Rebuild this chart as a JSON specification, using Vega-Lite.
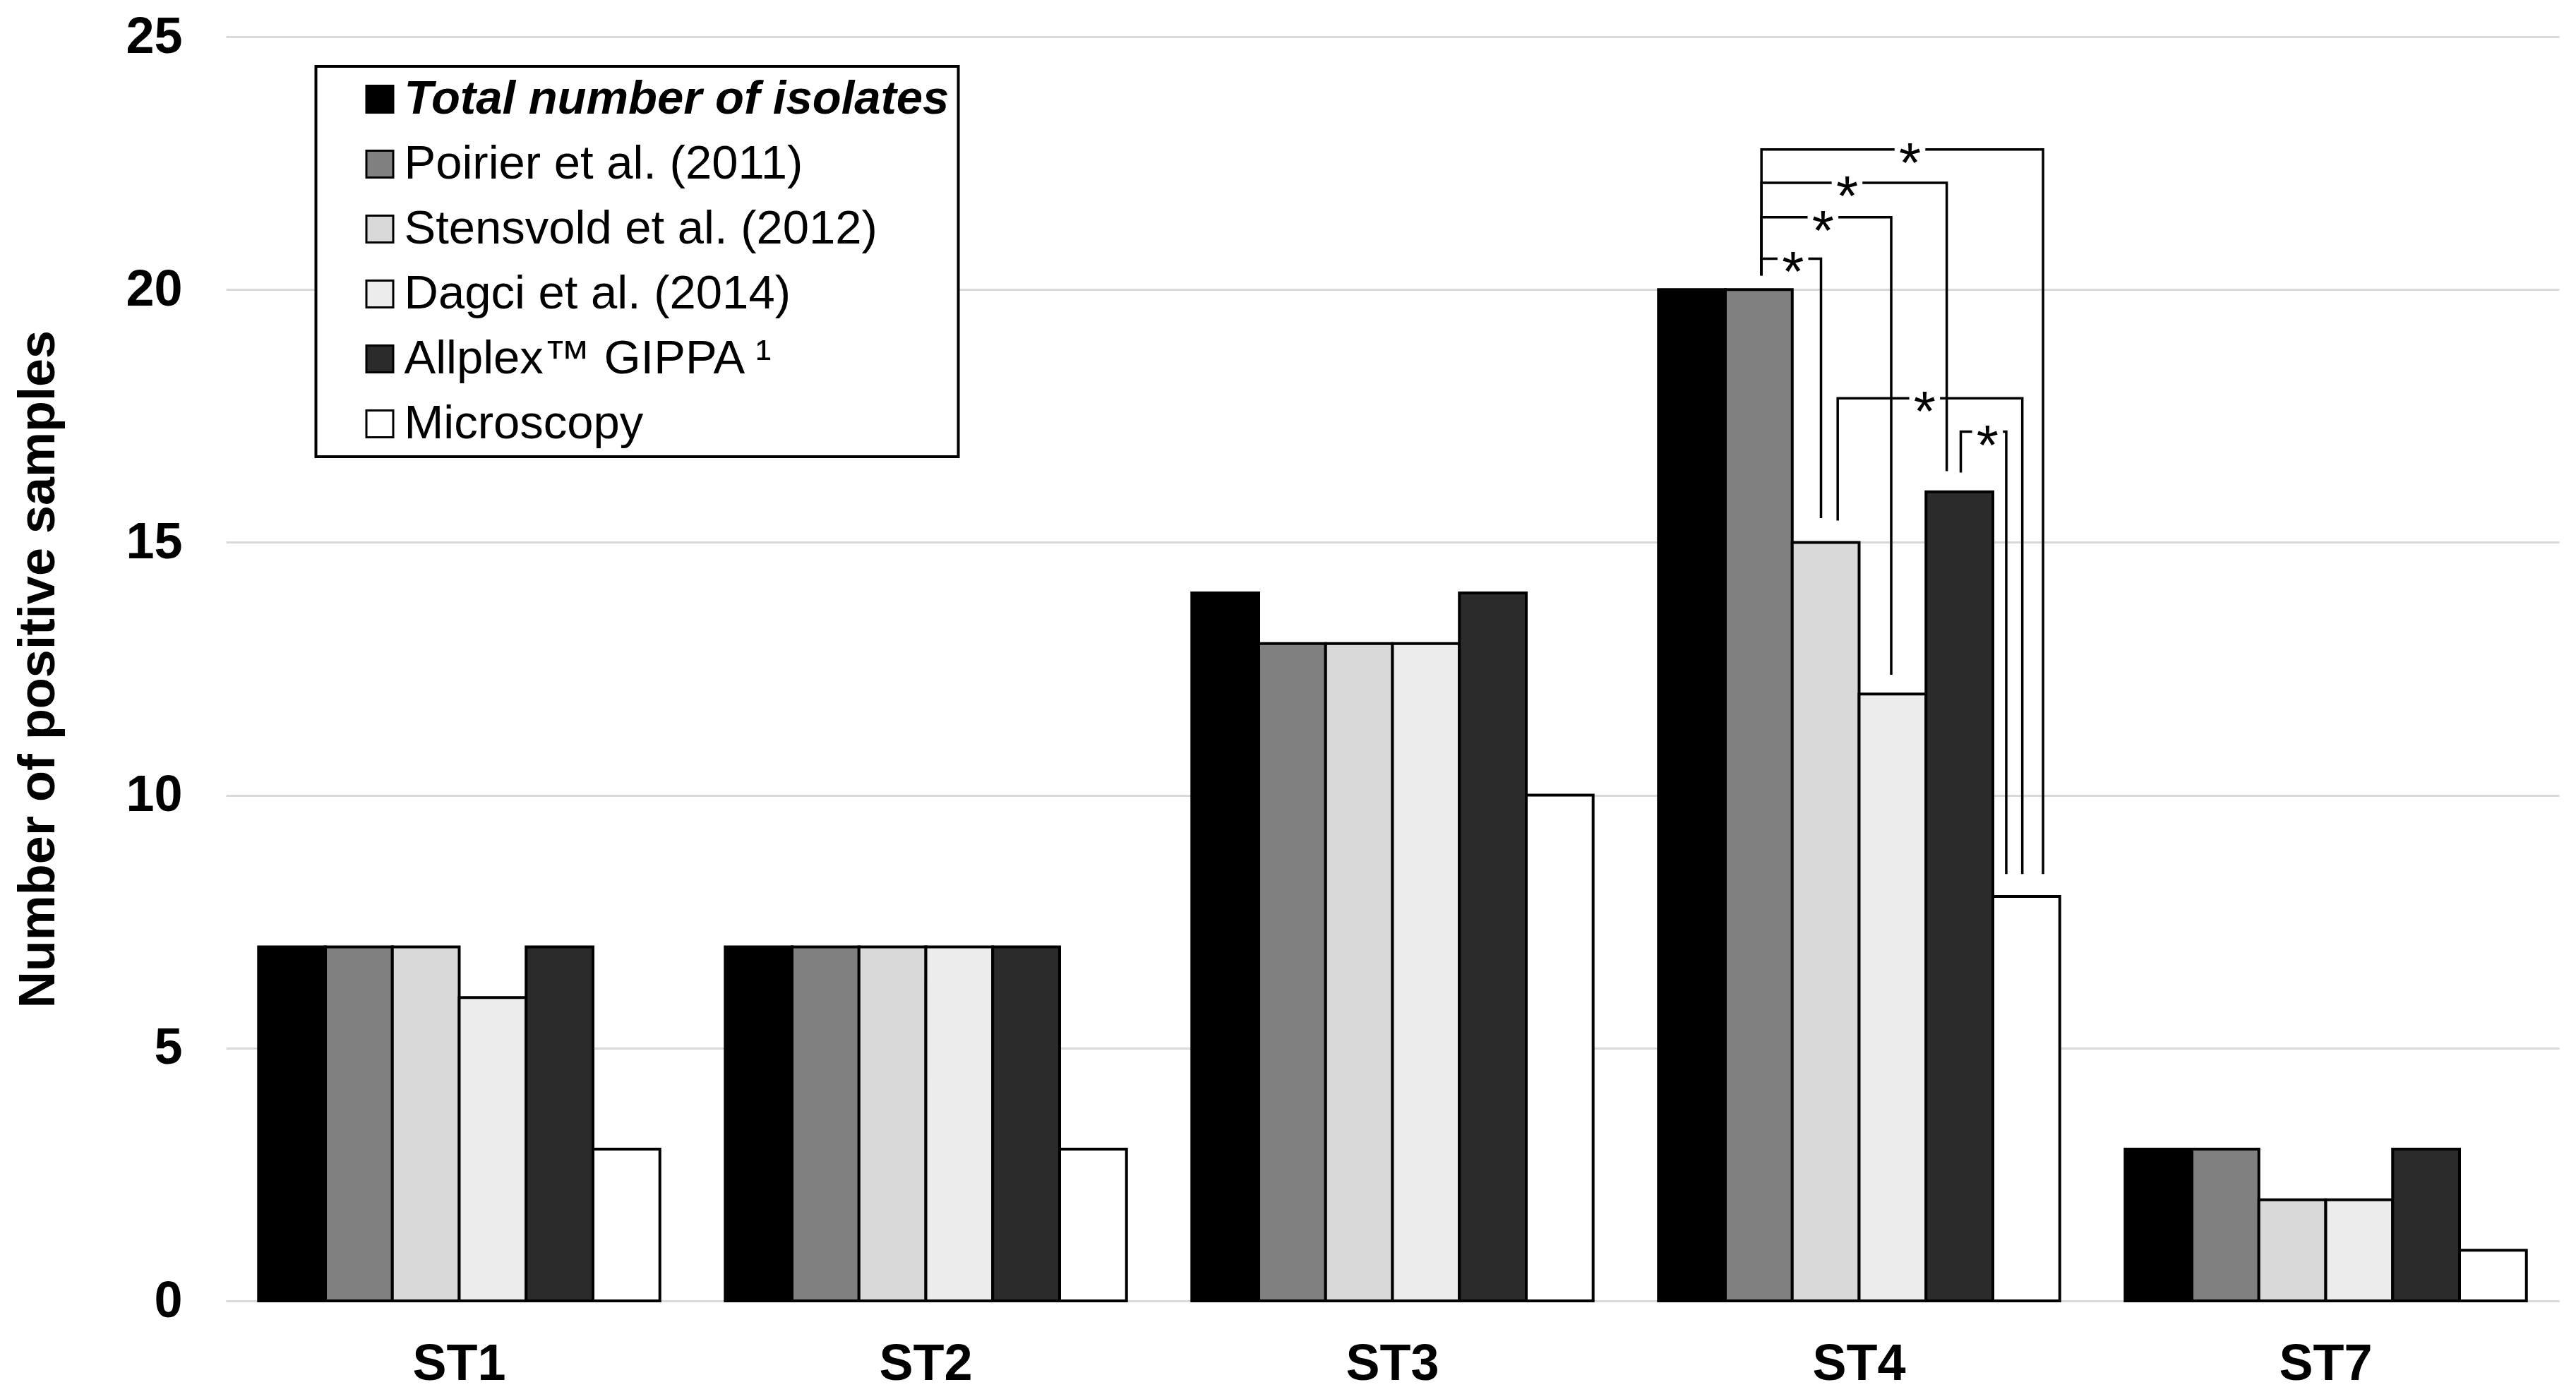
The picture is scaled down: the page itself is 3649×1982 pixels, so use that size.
{
  "$schema": "https://vega.github.io/schema/vega-lite/v6.json",
  "width": 3305,
  "height": 1791,
  "autosize": {"type": "none"},
  "padding": {"left": 320, "top": 52, "right": 24, "bottom": 139},
  "background": "white",
  "config": {"font": "Liberation Sans", "view": {"stroke": null}},
  "datasets": {
    "bars": [
      {"st": "ST1", "series": "Total number of isolates", "value": 7},
      {"st": "ST1", "series": "Poirier et al. (2011)", "value": 7},
      {"st": "ST1", "series": "Stensvold et al. (2012)", "value": 7},
      {"st": "ST1", "series": "Dagci et al. (2014)", "value": 6},
      {"st": "ST1", "series": "Allplex™ GIPPA ¹", "value": 7},
      {"st": "ST1", "series": "Microscopy", "value": 3},
      {"st": "ST2", "series": "Total number of isolates", "value": 7},
      {"st": "ST2", "series": "Poirier et al. (2011)", "value": 7},
      {"st": "ST2", "series": "Stensvold et al. (2012)", "value": 7},
      {"st": "ST2", "series": "Dagci et al. (2014)", "value": 7},
      {"st": "ST2", "series": "Allplex™ GIPPA ¹", "value": 7},
      {"st": "ST2", "series": "Microscopy", "value": 3},
      {"st": "ST3", "series": "Total number of isolates", "value": 14},
      {"st": "ST3", "series": "Poirier et al. (2011)", "value": 13},
      {"st": "ST3", "series": "Stensvold et al. (2012)", "value": 13},
      {"st": "ST3", "series": "Dagci et al. (2014)", "value": 13},
      {"st": "ST3", "series": "Allplex™ GIPPA ¹", "value": 14},
      {"st": "ST3", "series": "Microscopy", "value": 10},
      {"st": "ST4", "series": "Total number of isolates", "value": 20},
      {"st": "ST4", "series": "Poirier et al. (2011)", "value": 20},
      {"st": "ST4", "series": "Stensvold et al. (2012)", "value": 15},
      {"st": "ST4", "series": "Dagci et al. (2014)", "value": 12},
      {"st": "ST4", "series": "Allplex™ GIPPA ¹", "value": 16},
      {"st": "ST4", "series": "Microscopy", "value": 8},
      {"st": "ST7", "series": "Total number of isolates", "value": 3},
      {"st": "ST7", "series": "Poirier et al. (2011)", "value": 3},
      {"st": "ST7", "series": "Stensvold et al. (2012)", "value": 2},
      {"st": "ST7", "series": "Dagci et al. (2014)", "value": 2},
      {"st": "ST7", "series": "Allplex™ GIPPA ¹", "value": 3},
      {"st": "ST7", "series": "Microscopy", "value": 1}
    ],
    "brackets": [
      {"st": "ST4", "bracket": "b1", "k": 1, "pos": 1.04, "value": 20.28},
      {"st": "ST4", "bracket": "b1", "k": 2, "pos": 1.04, "value": 22.77},
      {"st": "ST4", "bracket": "b1", "k": 3, "pos": 5.25, "value": 22.77},
      {"st": "ST4", "bracket": "b1", "k": 4, "pos": 5.25, "value": 8.44},
      {"st": "ST4", "bracket": "b2", "k": 1, "pos": 1.04, "value": 20.28},
      {"st": "ST4", "bracket": "b2", "k": 2, "pos": 1.04, "value": 22.11},
      {"st": "ST4", "bracket": "b2", "k": 3, "pos": 3.81, "value": 22.11},
      {"st": "ST4", "bracket": "b2", "k": 4, "pos": 3.81, "value": 16.41},
      {"st": "ST4", "bracket": "b3", "k": 1, "pos": 1.04, "value": 20.28},
      {"st": "ST4", "bracket": "b3", "k": 2, "pos": 1.04, "value": 21.43},
      {"st": "ST4", "bracket": "b3", "k": 3, "pos": 2.98, "value": 21.43},
      {"st": "ST4", "bracket": "b3", "k": 4, "pos": 2.98, "value": 12.38},
      {"st": "ST4", "bracket": "b4", "k": 1, "pos": 1.04, "value": 20.28},
      {"st": "ST4", "bracket": "b4", "k": 2, "pos": 1.04, "value": 20.61},
      {"st": "ST4", "bracket": "b4", "k": 3, "pos": 1.93, "value": 20.61},
      {"st": "ST4", "bracket": "b4", "k": 4, "pos": 1.93, "value": 15.48},
      {"st": "ST4", "bracket": "b5", "k": 1, "pos": 2.18, "value": 15.43},
      {"st": "ST4", "bracket": "b5", "k": 2, "pos": 2.18, "value": 17.85},
      {"st": "ST4", "bracket": "b5", "k": 3, "pos": 4.94, "value": 17.85},
      {"st": "ST4", "bracket": "b5", "k": 4, "pos": 4.94, "value": 8.44},
      {"st": "ST4", "bracket": "b6", "k": 1, "pos": 4.02, "value": 16.38},
      {"st": "ST4", "bracket": "b6", "k": 2, "pos": 4.02, "value": 17.19},
      {"st": "ST4", "bracket": "b6", "k": 3, "pos": 4.70, "value": 17.19},
      {"st": "ST4", "bracket": "b6", "k": 4, "pos": 4.70, "value": 8.44}
    ],
    "stars": [
      {"st": "ST4", "pos": 3.26, "value": 22.77, "label": "*"},
      {"st": "ST4", "pos": 2.32, "value": 22.11, "label": "*"},
      {"st": "ST4", "pos": 1.96, "value": 21.43, "label": "*"},
      {"st": "ST4", "pos": 1.51, "value": 20.61, "label": "*"},
      {"st": "ST4", "pos": 3.48, "value": 17.85, "label": "*"},
      {"st": "ST4", "pos": 4.42, "value": 17.19, "label": "*"}
    ]
  },
  "encoding": {
    "x": {
      "field": "st", "type": "nominal",
      "sort": ["ST1", "ST2", "ST3", "ST4", "ST7"],
      "scale": {"paddingInner": 0.14, "paddingOuter": 0.07},
      "axis": {
        "title": null, "labelAngle": 0, "ticks": false, "grid": false,
        "domain": true, "domainColor": "#d9d9d9", "domainWidth": 3,
        "labelFontSize": 72, "labelFontWeight": "bold", "labelColor": "black",
        "labelPadding": 54, "labelFont": "Liberation Sans"
      }
    },
    "y": {
      "field": "value", "type": "quantitative",
      "scale": {"domain": [0, 25], "nice": false},
      "axis": {
        "values": [0, 5, 10, 15, 20, 25],
        "title": "Number of positive samples",
        "grid": true, "gridColor": "#d9d9d9", "gridWidth": 3,
        "domain": false, "ticks": false,
        "labelFontSize": 72, "labelFontWeight": "bold", "labelColor": "black",
        "labelPadding": 62, "labelFont": "Liberation Sans",
        "titleFontSize": 72, "titleFontWeight": "bold", "titleColor": "black",
        "titlePadding": 86, "titleFont": "Liberation Sans"
      }
    }
  },
  "layer": [
    {
      "data": {"name": "bars"},
      "mark": {"type": "bar", "stroke": "black", "strokeWidth": 4},
      "encoding": {
        "xOffset": {
          "field": "series", "type": "nominal",
          "sort": ["Total number of isolates", "Poirier et al. (2011)", "Stensvold et al. (2012)", "Dagci et al. (2014)", "Allplex™ GIPPA ¹", "Microscopy"]
        },
        "color": {
          "field": "series", "type": "nominal",
          "scale": {
            "domain": ["Total number of isolates", "Poirier et al. (2011)", "Stensvold et al. (2012)", "Dagci et al. (2014)", "Allplex™ GIPPA ¹", "Microscopy"],
            "range": ["#000000", "#808080", "#d9d9d9", "#ececec", "#2b2b2b", "#ffffff"]
          },
          "legend": {
            "orient": "none", "legendX": 127.5, "legendY": 42,
            "title": null, "symbolType": "square", "symbolSize": 1444,
            "symbolStrokeColor": "black", "symbolStrokeWidth": 3,
            "symbolOpacity": 1,
            "labelFontSize": 67, "labelFont": "Liberation Sans", "labelColor": "black",
            "labelLimit": 3000, "rowPadding": 24, "padding": 13,
            "strokeColor": "black", "fillColor": "white",
            "symbolOffset": 44, "labelOffset": 1,
            "encode": {
              "labels": {
                "update": {
                  "fontWeight": {"signal": "datum.label === 'Total number of isolates' ? 'bold' : 'normal'"},
                  "fontStyle": {"signal": "datum.label === 'Total number of isolates' ? 'italic' : 'normal'"}
                }
              },
              "legend": {"update": {"strokeWidth": {"value": 4}}}
            }
          }
        }
      }
    },
    {
      "data": {"name": "brackets"},
      "mark": {"type": "line", "color": "black", "strokeWidth": 3.5},
      "encoding": {
        "xOffset": {"field": "pos", "type": "quantitative", "scale": {"domain": [-0.5, 5.5]}},
        "detail": {"field": "bracket", "type": "nominal"},
        "order": {"field": "k", "type": "quantitative"}
      }
    },
    {
      "data": {"name": "stars"},
      "mark": {"type": "point", "shape": "square", "filled": true, "fill": "white", "strokeWidth": 0, "opacity": 1, "size": 1900},
      "encoding": {
        "xOffset": {"field": "pos", "type": "quantitative", "scale": {"domain": [-0.5, 5.5]}}
      }
    },
    {
      "data": {"name": "stars"},
      "mark": {"type": "text", "fontSize": 80, "font": "Liberation Sans", "color": "black", "align": "center", "baseline": "alphabetic", "dy": 46},
      "encoding": {
        "xOffset": {"field": "pos", "type": "quantitative", "scale": {"domain": [-0.5, 5.5]}},
        "text": {"field": "label"}
      }
    }
  ],
  "resolve": {"scale": {"xOffset": "independent"}}
}
